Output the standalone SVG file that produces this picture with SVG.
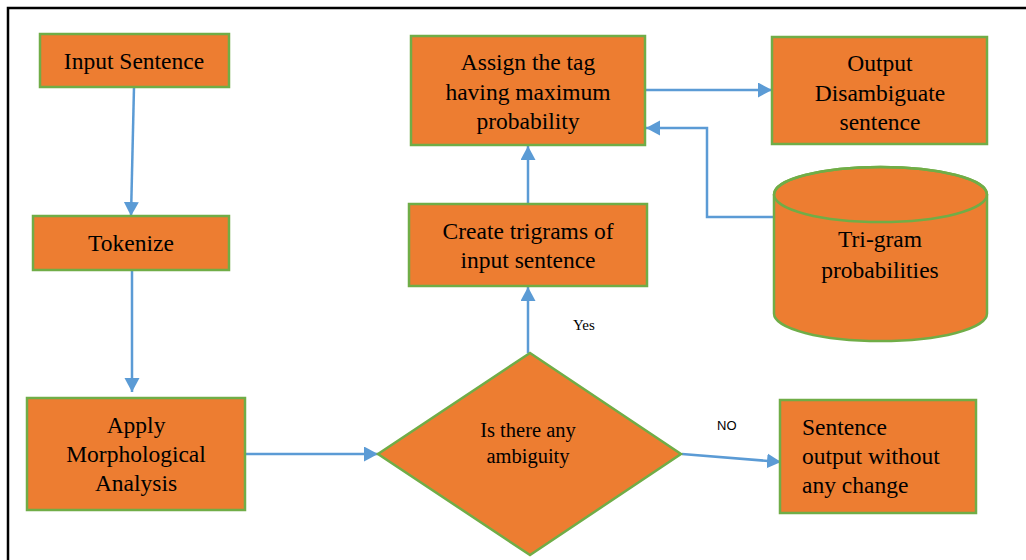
<svg xmlns="http://www.w3.org/2000/svg" width="1026" height="560" viewBox="0 0 1026 560">
<style>
.box{fill:#ED7D31;stroke:#70AD47;stroke-width:2.5}
.t{font-family:'Liberation Serif','Times New Roman',serif;font-size:23.5px;fill:#000;text-anchor:middle}
.tl{text-anchor:start}
.d{font-size:20.5px}
.c{fill:none;stroke:#5B9BD5;stroke-width:2.5}
.lbl{font-family:'Liberation Sans',Arial,sans-serif;font-size:13px;fill:#000}
.yes{font-family:'Liberation Serif','Times New Roman',serif;font-size:15px;fill:#000}
</style>
<defs>
<marker id="ah" markerUnits="userSpaceOnUse" markerWidth="15" markerHeight="16" refX="14" refY="7.5" orient="auto">
<path d="M0,0 L14,7.5 L0,15 Z" fill="#5B9BD5"/>
</marker>
</defs>
<rect x="0" y="0" width="1026" height="560" fill="#fff"/>
<rect x="8" y="8" width="1030" height="570" fill="none" stroke="#000" stroke-width="2.5"/>

<g id="connectors">
<path class="c" d="M134,87 L131,216" marker-end="url(#ah)"/>
<path class="c" d="M132,270 L132,392" marker-end="url(#ah)"/>
<path class="c" d="M246,454 L378,454" marker-end="url(#ah)"/>
<path class="c" d="M682,454 L781,462" marker-end="url(#ah)"/>
<path class="c" d="M528,353 L528,287" marker-end="url(#ah)"/>
<path class="c" d="M528,204 L528,146" marker-end="url(#ah)"/>
<path class="c" d="M645,90 L772,90" marker-end="url(#ah)"/>
<path class="c" d="M774,217 L707,217 L707,128 L646,128" marker-end="url(#ah)"/>
<text class="yes" x="573" y="330">Yes</text>
<text class="lbl" x="717" y="430">NO</text>
</g>

<g id="input">
<rect class="box" x="40" y="34" width="189" height="53"/>
<text class="t" x="134" y="69">Input Sentence</text>
</g>

<g id="tokenize">
<rect class="box" x="33" y="216" width="196" height="54"/>
<text class="t" x="131" y="251">Tokenize</text>
</g>

<g id="morph">
<rect class="box" x="27" y="398" width="218" height="112"/>
<text class="t" x="136" y="433">Apply</text>
<text class="t" x="136" y="462">Morphological</text>
<text class="t" x="136" y="491">Analysis</text>
</g>

<g id="decision">
<polygon class="box" points="530,353 681,454 530,555 378,454"/>
<text class="t d" x="528" y="437">Is there any</text>
<text class="t d" x="528" y="463">ambiguity</text>
</g>

<g id="nochange">
<rect class="box" x="780" y="400" width="196" height="113"/>
<text class="t tl" x="802" y="435">Sentence</text>
<text class="t tl" x="802" y="464">output without</text>
<text class="t tl" x="802" y="493">any change</text>
</g>

<g id="trigrams">
<rect class="box" x="409" y="204" width="238" height="82"/>
<text class="t" x="528" y="239">Create trigrams of</text>
<text class="t" x="528" y="268">input sentence</text>
</g>

<g id="assign">
<rect class="box" x="411" y="36" width="234" height="109"/>
<text class="t" x="528" y="70">Assign the tag</text>
<text class="t" x="528" y="100">having maximum</text>
<text class="t" x="528" y="129">probability</text>
</g>

<g id="output">
<rect class="box" x="772" y="37" width="215" height="107"/>
<text class="t" x="880" y="71">Output</text>
<text class="t" x="880" y="101">Disambiguate</text>
<text class="t" x="880" y="130">sentence</text>
</g>

<g id="trigramdb">
<path class="box" d="M774,194.5 A106.5,27.5 0 0 1 987,194.5 L987,313.5 A106.5,27.5 0 0 1 774,313.5 Z"/>
<ellipse cx="880.5" cy="194.5" rx="106.5" ry="27.5" fill="none" stroke="#70AD47" stroke-width="2.5"/>
<text class="t" x="880" y="247">Tri-gram</text>
<text class="t" x="880" y="278">probabilities</text>
</g>
</svg>
